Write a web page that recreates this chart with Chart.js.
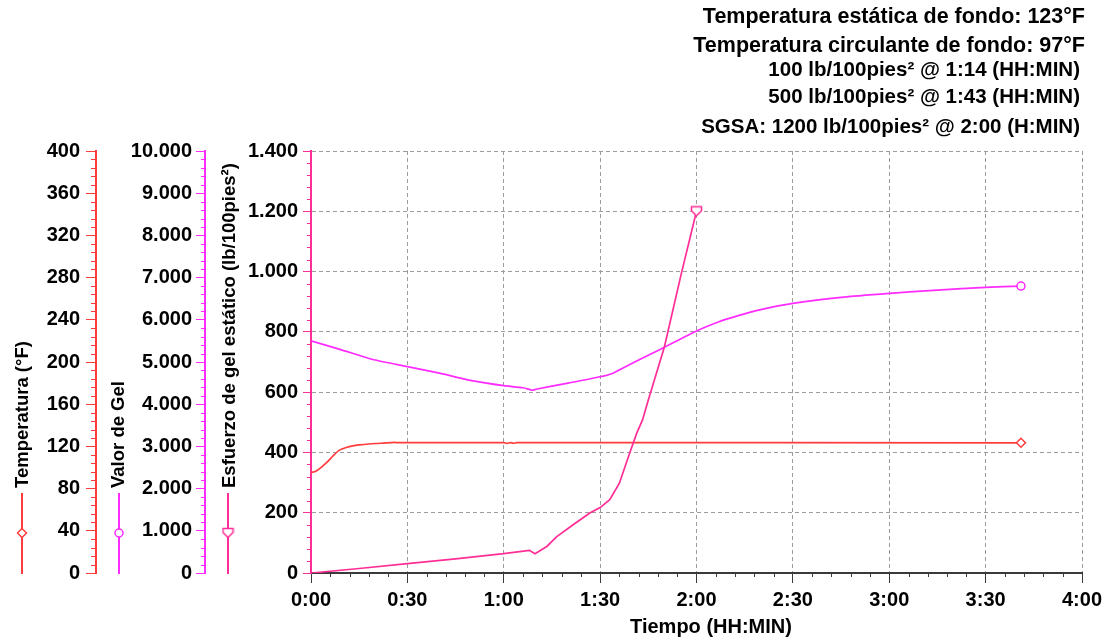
<!DOCTYPE html>
<html>
<head>
<meta charset="utf-8">
<script src="https://cdn.jsdelivr.net/npm/chart.js@4.4.1/dist/chart.umd.min.js"></script>
<style>
  html, body { margin: 0; padding: 0; background: #fff; }
  canvas { display: block; }
</style>
</head>
<body>
<canvas id="gelChart" width="1114" height="642"></canvas>
<script>
// tiempo en minutos
var tempTime   = [0, 1.5, 3, 5, 7, 9, 11, 13, 15, 18, 22, 26, 27, 60, 61, 62, 63, 64, 221];
var tempValues = [95.2, 96.5, 99.7, 105, 111.5, 116.7, 119, 120.5, 121.4, 122.3, 123, 123.8, 123.5, 123.5, 122.9, 123.6, 123, 123.5, 123.4];

var gelTime   = [0, 9, 19, 30, 40, 50, 60, 66, 69, 70, 80, 90, 94, 100, 109, 120, 127, 132, 140, 150, 165, 180, 195, 210, 221];
var gelValues = [5500, 5300, 5065, 4890, 4735, 4560, 4440, 4390, 4330, 4355, 4500, 4650, 4735, 4970, 5310, 5735, 5955, 6075, 6240, 6390, 6530, 6625, 6705, 6770, 6800];

var sgsTime   = [0, 15, 30, 45, 60, 68, 69.7, 71, 73.4, 76.5, 81.6, 86.8, 90, 93, 96, 98.8, 101.4, 103.2, 105, 110, 115.4, 120];
var sgsValues = [0, 15, 31, 47, 64, 75, 64, 72, 88, 121, 160, 199, 217, 243, 298, 386, 464, 508, 574, 750, 999, 1200];

var timeLabels = ['0:00', '0:30', '1:00', '1:30', '2:00', '2:30', '3:00', '3:30', '4:00'];

var axisTitles = ['Temperatura (°F)', 'Valor de Gel', 'Esfuerzo de gel estático (lb/100pies²)'];
var xTitle = 'Tiempo (HH:MIN)';

var infoLines = [
    'Temperatura estática de fondo: 123°F',
    'Temperatura circulante de fondo: 97°F',
    '100 lb/100pies² @ 1:14 (HH:MIN)',
    '500 lb/100pies² @ 1:43 (HH:MIN)',
    'SGSA: 1200 lb/100pies² @ 2:00 (H:MIN)'
];

var tempColor = '#ff3c3c';
var gelColor = '#ff2bff';
var sgsColor = '#ff2e96';
var gridColor = '#9c9c9c';
var axisColor = '#3a3a3a';
var FONT = '"Liberation Sans", Arial, sans-serif';

function pairs(xs, ys) {
    return xs.map(function (x, i) { return { x: x, y: ys[i] }; });
}

function miles(v) {
    return String(v).replace(/\B(?=(\d{3})+(?!\d))/g, '.');
}

function lastOnly(r) {
    return function (c) { return c.dataIndex === c.dataset.data.length - 1 ? r : 0; };
}

// pentagon marker (flat top, pointed bottom)
function pentagon(color) {
    var c = document.createElement('canvas');
    c.width = 13; c.height = 12;
    var g = c.getContext('2d');
    g.strokeStyle = color; g.lineWidth = 1.5; g.fillStyle = '#fff';
    g.beginPath();
    g.moveTo(1.5, 1.5); g.lineTo(11.5, 1.5); g.lineTo(11.5, 5.5);
    g.lineTo(6.5, 10.5); g.lineTo(1.5, 5.5); g.closePath();
    g.fill(); g.stroke();
    return c;
}
var sgsMarker = pentagon(sgsColor);

function minorY(ctx, scale, step, count, len, color) {
    ctx.strokeStyle = color;
    ctx.lineWidth = 1;
    for (var i = 0; i <= count; i++) {
        if (i % 5 === 0) continue;
        var y = Math.round(scale.getPixelForValue(i * step)) + 0.5;
        ctx.beginPath();
        ctx.moveTo(scale.right - len, y);
        ctx.lineTo(scale.right, y);
        ctx.stroke();
    }
}

var extras = {
    id: 'extras',
    afterDraw: function (chart) {
        var ctx = chart.ctx;
        var area = chart.chartArea;
        ctx.save();

        // minor ticks
        minorY(ctx, chart.scales.yTemp, 8, 50, 5, tempColor);
        minorY(ctx, chart.scales.yGel, 200, 50, 4, gelColor);
        minorY(ctx, chart.scales.y, 40, 35, 4, sgsColor);
        var xs = chart.scales.x;
        ctx.strokeStyle = axisColor;
        for (var i = 0; i <= 40; i++) {
            if (i % 5 === 0) continue;
            var x = Math.round(xs.getPixelForValue(i * 6)) + 0.5;
            ctx.beginPath();
            ctx.moveTo(x, area.bottom);
            ctx.lineTo(x, area.bottom + 4);
            ctx.stroke();
        }

        // axis titles, rotated, bottom aligned
        ctx.fillStyle = '#000';
        ctx.font = 'bold 18.5px ' + FONT;
        ctx.textAlign = 'left';
        ctx.textBaseline = 'middle';
        var titleX = [23, 119, 230];
        for (var k = 0; k < 3; k++) {
            ctx.save();
            ctx.translate(titleX[k], 488);
            ctx.rotate(-Math.PI / 2);
            ctx.fillText(axisTitles[k], 0, 0);
            ctx.restore();
        }

        // legend symbols under the titles
        var legX = [22, 119, 228];
        var legColors = [tempColor, gelColor, sgsColor];
        ctx.lineWidth = 2;
        for (k = 0; k < 3; k++) {
            ctx.strokeStyle = legColors[k];
            ctx.beginPath();
            ctx.moveTo(legX[k], 493);
            ctx.lineTo(legX[k], 574);
            ctx.stroke();
        }
        ctx.lineWidth = 1.5;
        ctx.fillStyle = '#fff';
        ctx.strokeStyle = tempColor;
        ctx.beginPath();
        ctx.moveTo(legX[0] - 4.5, 533); ctx.lineTo(legX[0], 528.5);
        ctx.lineTo(legX[0] + 4.5, 533); ctx.lineTo(legX[0], 537.5);
        ctx.closePath(); ctx.fill(); ctx.stroke();
        ctx.strokeStyle = gelColor;
        ctx.beginPath();
        ctx.arc(legX[1], 533, 4, 0, Math.PI * 2);
        ctx.fill(); ctx.stroke();
        ctx.drawImage(sgsMarker, legX[2] - 6.5, 527);

        // x title
        ctx.fillStyle = '#000';
        ctx.font = 'bold 20px ' + FONT;
        ctx.textAlign = 'center';
        ctx.fillText(xTitle, 711, 627);

        // info block, top right
        ctx.textAlign = 'right';
        var infoY = [17, 46, 70, 97, 127];
        var infoR = [1085, 1085, 1080, 1080, 1080];
        var infoSize = [21.5, 21.5, 20.5, 20.5, 20.5];
        for (k = 0; k < infoLines.length; k++) {
            ctx.font = 'bold ' + infoSize[k] + 'px ' + FONT;
            ctx.fillText(infoLines[k], infoR[k], infoY[k]);
        }
        ctx.restore();
    }
};

var tickFont = { family: FONT, size: 20, weight: 'bold' };

var ctx = document.getElementById('gelChart').getContext('2d');
var gelChart = new Chart(ctx, {
    type: 'line',
    data: {
        datasets: [{
            label: axisTitles[2],
            data: pairs(sgsTime, sgsValues),
            yAxisID: 'y',
            borderColor: sgsColor,
            borderWidth: 1.7,
            pointRadius: lastOnly(6),
            pointStyle: sgsMarker,
            tension: 0
        }, {
            label: axisTitles[1],
            data: pairs(gelTime, gelValues),
            yAxisID: 'yGel',
            borderColor: gelColor,
            borderWidth: 1.7,
            pointRadius: lastOnly(4),
            pointStyle: 'circle',
            pointBackgroundColor: '#fff',
            pointBorderColor: gelColor,
            pointBorderWidth: 1.5,
            tension: 0.2
        }, {
            label: axisTitles[0],
            data: pairs(tempTime, tempValues),
            yAxisID: 'yTemp',
            borderColor: tempColor,
            borderWidth: 1.7,
            pointRadius: lastOnly(4.5),
            pointStyle: 'rectRot',
            pointBackgroundColor: '#fff',
            pointBorderColor: tempColor,
            pointBorderWidth: 1.5,
            tension: 0.3
        }]
    },
    options: {
        responsive: false,
        animation: false,
        layout: { padding: { top: 151, right: 32, bottom: 0, left: 0 } },
        plugins: {
            legend: { display: false },
            tooltip: { enabled: false }
        },
        scales: {
            x: {
                type: 'linear',
                min: 0,
                max: 240,
                afterFit: function (s) { s.height = 69; },
                ticks: {
                    stepSize: 30,
                    color: '#000',
                    font: tickFont,
                    padding: 5,
                    maxRotation: 0,
                    callback: function (v) { return timeLabels[Math.round(v / 30)]; }
                },
                grid: {
                    color: function (c) { return c.tick && c.tick.value === 0 ? 'rgba(0,0,0,0)' : gridColor; },
                    tickColor: axisColor,
                    tickLength: 10
                },
                border: { color: axisColor, width: 2, dash: [4, 3] }
            },
            y: {
                position: 'left',
                weight: 0,
                min: 0,
                max: 1400,
                afterFit: function (s) { s.width = 106; },
                ticks: {
                    stepSize: 200,
                    color: '#000',
                    font: tickFont,
                    padding: 5,
                    callback: function (v) { return miles(v); }
                },
                grid: {
                    color: function (c) { return c.tick && c.tick.value === 0 ? 'rgba(0,0,0,0)' : gridColor; },
                    tickColor: sgsColor,
                    tickLength: 8
                },
                border: { color: sgsColor, width: 2, dash: [4, 3] }
            },
            yGel: {
                position: 'left',
                weight: 1,
                min: 0,
                max: 10000,
                afterFit: function (s) { s.width = 109; },
                ticks: {
                    stepSize: 1000,
                    color: '#000',
                    font: tickFont,
                    padding: 4,
                    callback: function (v) { return miles(v); }
                },
                grid: { drawOnChartArea: false, color: gelColor, tickLength: 9 },
                border: { color: gelColor, width: 2 }
            },
            yTemp: {
                position: 'left',
                weight: 2,
                min: 0,
                max: 400,
                afterFit: function (s) { s.width = 96; },
                ticks: {
                    stepSize: 40,
                    color: '#000',
                    font: tickFont,
                    padding: 6
                },
                grid: { drawOnChartArea: false, color: tempColor, tickLength: 10 },
                border: { color: tempColor, width: 2 }
            }
        }
    },
    plugins: [extras]
});
</script>
</body>
</html>
